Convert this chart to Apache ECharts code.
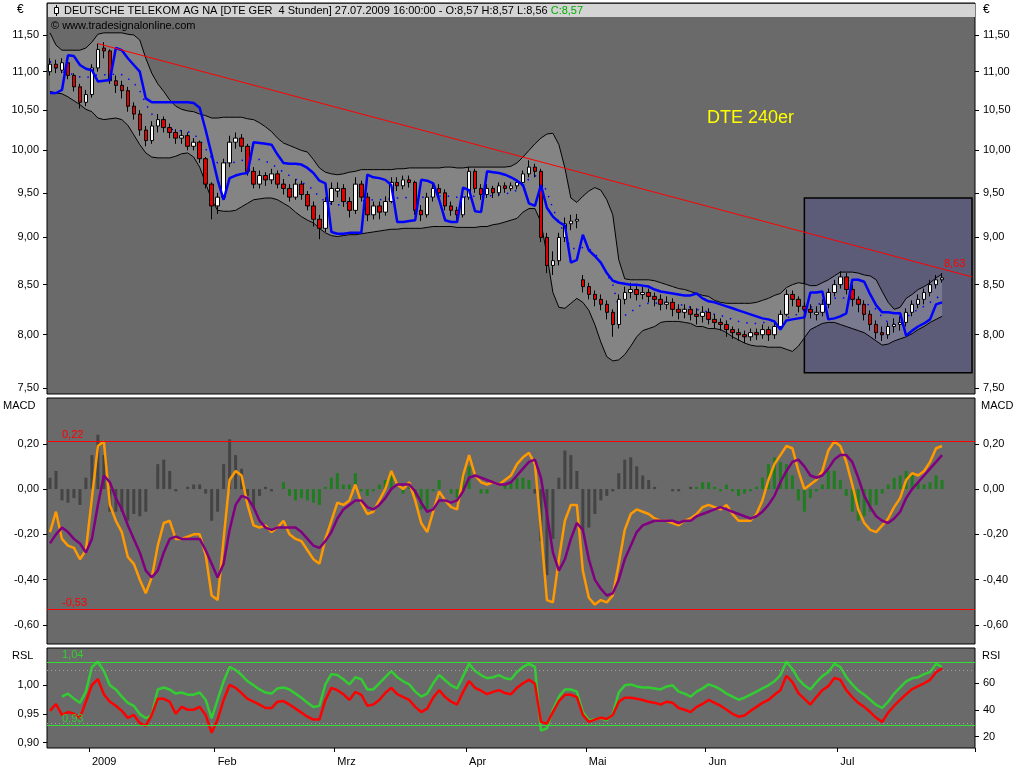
<!DOCTYPE html>
<html><head><meta charset="utf-8">
<script src="https://cdn.jsdelivr.net/npm/echarts@6/dist/echarts.min.js"></script>
<style>html,body{margin:0;padding:0;background:#fff}#c{width:1024px;height:768px}</style>
</head><body><div id="c"></div>
<script>
// ---------- x axis ----------
const totalSlots = 155;
const monthLabels = ['2009','Feb','Mrz','Apr','Mai','Jun','Jul'];
const monthStart  = [7, 28, 48, 70, 90, 110, 132];

// ---------- price panel (EUR) ----------
const priceRange = [7.446, 11.954];
const priceTicks = [7.5, 8, 8.5, 9, 9.5, 10, 10.5, 11, 11.5];
// [open, close, low, high]
const candles = [
[11.00,11.10,10.95,11.18],[11.10,11.05,10.98,11.16],[11.02,11.12,10.98,11.18],[11.12,10.95,10.90,11.15],[10.95,10.80,10.74,10.98],
[10.80,10.60,10.52,10.84],[10.60,10.70,10.55,10.76],[10.70,11.05,10.66,11.10],[11.05,11.30,11.00,11.38],[11.32,11.28,11.18,11.40],
[11.28,10.88,10.84,11.30],[10.88,10.82,10.72,10.95],[10.82,10.75,10.65,10.88],[10.75,10.55,10.48,10.80],[10.55,10.45,10.38,10.60],
[10.45,10.25,10.18,10.50],[10.25,10.12,10.05,10.30],[10.12,10.30,10.08,10.36],[10.30,10.38,10.22,10.45],[10.38,10.28,10.22,10.42],
[10.28,10.22,10.15,10.33],[10.22,10.15,10.08,10.26],[10.15,10.18,10.08,10.25],[10.18,10.05,10.00,10.22],[10.05,10.10,10.00,10.15],
[10.10,9.90,9.85,10.12],[9.90,9.60,9.55,9.92],[9.60,9.35,9.20,9.62],[9.35,9.45,9.26,9.50],[9.45,9.85,9.42,9.90],
[9.85,10.10,9.80,10.18],[10.10,10.15,10.02,10.22],[10.15,10.05,9.98,10.20],[10.05,9.75,9.70,10.08],[9.75,9.60,9.55,9.80],
[9.60,9.70,9.55,9.76],[9.70,9.65,9.58,9.74],[9.65,9.72,9.60,9.78],[9.72,9.60,9.55,9.76],[9.60,9.55,9.48,9.66],
[9.55,9.45,9.40,9.60],[9.45,9.60,9.42,9.66],[9.60,9.48,9.42,9.64],[9.48,9.35,9.30,9.52],[9.35,9.20,9.12,9.40],
[9.20,9.10,8.98,9.25],[9.10,9.40,9.06,9.45],[9.40,9.55,9.36,9.62],[9.52,9.55,9.45,9.62],[9.55,9.40,9.34,9.60],
[9.40,9.30,9.22,9.45],[9.30,9.60,9.26,9.68],[9.60,9.45,9.40,9.64],[9.45,9.25,9.18,9.50],[9.25,9.35,9.20,9.40],
[9.35,9.28,9.20,9.40],[9.28,9.40,9.24,9.46],[9.40,9.62,9.38,9.68],[9.62,9.58,9.52,9.68],[9.58,9.65,9.54,9.70],
[9.65,9.62,9.56,9.70],[9.62,9.30,9.25,9.64],[9.30,9.25,9.18,9.36],[9.25,9.45,9.22,9.50],[9.45,9.55,9.40,9.60],
[9.55,9.50,9.42,9.60],[9.50,9.35,9.30,9.54],[9.35,9.30,9.24,9.40],[9.30,9.25,9.18,9.34],[9.25,9.45,9.22,9.50],
[9.45,9.75,9.42,9.80],[9.75,9.55,9.50,9.78],[9.55,9.48,9.42,9.60],[9.48,9.55,9.44,9.60],[9.55,9.50,9.44,9.58],
[9.50,9.58,9.46,9.62],[9.58,9.55,9.50,9.62],[9.55,9.58,9.52,9.62],[9.58,9.62,9.54,9.66],[9.62,9.72,9.58,9.76],
[9.72,9.80,9.68,9.88],[9.80,9.75,9.68,9.84],[9.75,9.00,8.95,9.78],[9.00,8.70,8.62,9.05],[8.70,8.75,8.60,8.85],
[8.75,9.00,8.70,9.05],[9.00,9.15,8.95,9.22],[9.15,9.18,9.08,9.25],[9.18,9.20,9.10,9.26],[8.55,8.48,8.42,8.60],
[8.48,8.40,8.35,8.52],[8.40,8.35,8.28,8.44],[8.35,8.30,8.24,8.40],[8.30,8.22,8.15,8.34],[8.22,8.10,7.98,8.25],
[8.10,8.35,8.06,8.40],[8.35,8.42,8.30,8.48],[8.42,8.45,8.36,8.52],[8.45,8.40,8.34,8.50],[8.40,8.42,8.35,8.48],
[8.42,8.38,8.32,8.46],[8.38,8.35,8.28,8.42],[8.35,8.30,8.24,8.40],[8.30,8.32,8.25,8.38],[8.32,8.25,8.18,8.36],
[8.25,8.22,8.15,8.30],[8.22,8.25,8.16,8.30],[8.25,8.20,8.14,8.28],[8.20,8.18,8.10,8.26],[8.18,8.22,8.12,8.28],
[8.22,8.15,8.10,8.26],[8.15,8.12,8.06,8.20],[8.12,8.10,8.04,8.16],[8.10,8.05,7.98,8.14],[8.05,8.02,7.96,8.08],
[8.02,8.00,7.94,8.06],[8.00,7.98,7.92,8.04],[7.98,8.02,7.94,8.06],[8.02,8.00,7.95,8.06],[8.00,8.05,7.96,8.10],
[8.05,8.00,7.94,8.08],[8.00,8.08,7.96,8.12],[8.08,8.20,8.05,8.24],[8.20,8.40,8.18,8.45],[8.40,8.35,8.28,8.44],
[8.35,8.28,8.22,8.38],[8.28,8.25,8.18,8.32],[8.25,8.22,8.16,8.30],[8.20,8.22,8.14,8.28],[8.22,8.30,8.18,8.35],
[8.30,8.42,8.26,8.46],[8.42,8.50,8.38,8.55],[8.50,8.58,8.46,8.64],[8.58,8.45,8.40,8.62],[8.45,8.35,8.28,8.50],
[8.35,8.30,8.22,8.38],[8.30,8.20,8.14,8.34],[8.20,8.10,8.04,8.24],[8.10,8.02,7.96,8.14],[8.02,8.00,7.94,8.08],
[8.00,8.08,7.96,8.12],[8.08,8.10,8.02,8.16],[8.10,8.12,8.04,8.18],[8.12,8.22,8.08,8.26],[8.22,8.30,8.18,8.34],
[8.30,8.35,8.26,8.40],[8.35,8.42,8.30,8.46],[8.42,8.50,8.38,8.55],[8.50,8.55,8.46,8.60],[8.55,8.57,8.52,8.62]
];
const bandUpper = [
11.53,11.36,11.29,11.29,11.29,11.29,11.32,11.40,11.51,11.53,
11.53,11.53,11.53,11.51,11.50,11.43,11.18,10.98,10.84,10.74,
10.63,10.55,10.51,10.49,10.48,10.45,10.43,10.40,10.40,10.41,
10.41,10.41,10.41,10.39,10.38,10.34,10.29,10.23,10.15,10.09,
10.06,10.03,10.00,9.98,9.89,9.79,9.74,9.72,9.71,9.72,
9.74,9.75,9.77,9.77,9.77,9.77,9.77,9.77,9.78,9.78,
9.79,9.79,9.79,9.79,9.79,9.79,9.80,9.80,9.79,9.79,
9.80,9.80,9.80,9.80,9.80,9.80,9.80,9.81,9.85,9.92,
10.00,10.08,10.15,10.20,10.21,10.07,9.79,9.44,9.39,9.46,
9.52,9.56,9.53,9.42,9.25,8.76,8.56,8.55,8.55,8.55,
8.55,8.54,8.52,8.50,8.48,8.46,8.45,8.43,8.41,8.39,
8.38,8.34,8.32,8.31,8.31,8.31,8.31,8.31,8.32,8.34,
8.36,8.39,8.41,8.47,8.50,8.52,8.51,8.49,8.49,8.52,
8.55,8.59,8.63,8.63,8.63,8.62,8.60,8.59,8.55,8.43,
8.32,8.25,8.27,8.36,8.40,8.45,8.48,8.52,8.57,8.61
];
const bandMiddle = [
11.14,11.04,11.00,10.98,10.96,10.93,10.92,10.94,10.96,10.96,
10.96,10.97,10.96,10.91,10.85,10.75,10.58,10.45,10.38,10.33,
10.27,10.24,10.24,10.23,10.20,10.13,10.02,9.91,9.85,9.85,
9.85,9.86,9.88,9.89,9.90,9.89,9.87,9.84,9.79,9.74,
9.70,9.66,9.62,9.59,9.53,9.45,9.40,9.37,9.36,9.37,
9.39,9.39,9.41,9.41,9.42,9.42,9.43,9.43,9.44,9.44,
9.45,9.45,9.45,9.45,9.46,9.46,9.46,9.46,9.45,9.45,
9.46,9.46,9.46,9.46,9.47,9.48,9.49,9.50,9.53,9.60,
9.66,9.70,9.66,9.51,9.32,9.17,9.03,8.88,8.88,8.89,
8.88,8.83,8.73,8.61,8.50,8.26,8.19,8.22,8.27,8.30,
8.31,8.31,8.32,8.32,8.31,8.30,8.29,8.27,8.25,8.24,
8.22,8.20,8.19,8.17,8.15,8.13,8.12,8.11,8.11,8.12,
8.12,8.14,8.15,8.17,8.17,8.21,8.24,8.27,8.29,8.32,
8.34,8.36,8.37,8.36,8.35,8.33,8.31,8.29,8.25,8.17,
8.12,8.10,8.12,8.17,8.21,8.25,8.28,8.32,8.36,8.40
];
const bandLower = [
10.74,10.72,10.71,10.67,10.62,10.57,10.51,10.48,10.40,10.38,
10.39,10.40,10.38,10.31,10.19,10.07,9.97,9.92,9.91,9.91,
9.91,9.93,9.96,9.97,9.92,9.80,9.61,9.42,9.30,9.29,
9.29,9.30,9.34,9.38,9.42,9.43,9.44,9.44,9.42,9.38,
9.34,9.28,9.23,9.19,9.16,9.10,9.05,9.02,9.01,9.02,
9.03,9.03,9.04,9.05,9.06,9.07,9.08,9.09,9.09,9.10,
9.10,9.10,9.10,9.11,9.12,9.12,9.12,9.12,9.11,9.11,
9.11,9.11,9.12,9.12,9.14,9.15,9.17,9.19,9.21,9.28,
9.32,9.32,9.17,8.81,8.42,8.27,8.26,8.31,8.36,8.32,
8.24,8.10,7.93,7.79,7.75,7.76,7.81,7.89,7.98,8.04,
8.06,8.08,8.12,8.13,8.13,8.13,8.12,8.11,8.08,8.08,
8.06,8.06,8.05,8.02,7.98,7.95,7.92,7.90,7.89,7.89,
7.88,7.88,7.88,7.86,7.84,7.89,7.97,8.05,8.08,8.11,
8.12,8.12,8.10,8.08,8.06,8.04,8.02,7.98,7.94,7.90,
7.91,7.94,7.96,7.98,8.01,8.05,8.08,8.12,8.15,8.18
];
const blueLine = [
10.72,10.72,10.76,11.22,11.21,11.09,11.04,11.02,10.87,10.88,
10.89,11.32,11.29,11.18,11.09,11.00,10.65,10.60,10.60,10.60,
10.60,10.60,10.60,10.60,10.59,10.53,10.25,9.95,9.65,9.42,
9.67,9.70,9.72,9.73,10.10,10.09,10.08,10.07,9.95,9.85,
9.84,9.84,9.83,9.79,9.73,9.64,9.61,9.06,9.04,9.04,
9.05,9.05,9.05,9.71,9.68,9.67,9.65,9.59,9.17,9.17,
9.18,9.19,9.65,9.64,9.61,9.42,9.19,9.17,9.17,9.56,
9.53,9.29,9.28,9.75,9.74,9.73,9.71,9.68,9.64,9.59,
9.38,9.35,9.59,9.33,9.23,9.17,9.13,8.73,8.76,9.03,
8.86,8.80,8.73,8.62,8.54,8.52,8.51,8.50,8.50,8.49,
8.48,8.45,8.43,8.42,8.41,8.40,8.39,8.39,8.41,8.36,
8.33,8.32,8.30,8.28,8.26,8.24,8.22,8.20,8.18,8.16,
8.15,8.13,8.05,8.14,8.15,8.16,8.17,8.42,8.42,8.43,
8.15,8.16,8.18,8.21,8.55,8.55,8.53,8.40,8.29,8.22,
8.22,8.21,8.21,7.99,8.04,8.08,8.11,8.15,8.30,8.32
];
const trendPoints = [[8, 11.38], [154, 8.58]];
const trendLabel = '8,63';
const highlightBox = { fromIdx: 126, toIdx: 154, top: 9.44, bottom: 7.64 };

// ---------- MACD panel ----------
const macdRange = [-0.684, 0.402];
const macdTicks = [-0.6, -0.4, -0.2, 0, 0.2];
const macdLevels = [0.212, -0.53];
const macdLevelLabels = ['0,22', '-0,53'];
const macdLine = [
-0.19,-0.10,-0.22,-0.25,-0.26,-0.31,-0.27,-0.04,0.19,0.21,
-0.07,-0.14,-0.19,-0.30,-0.33,-0.40,-0.46,-0.39,-0.25,-0.15,
-0.14,-0.22,-0.22,-0.21,-0.20,-0.20,-0.29,-0.47,-0.49,-0.22,
0.04,0.08,0.06,-0.07,-0.16,-0.17,-0.16,-0.19,-0.17,-0.14,
-0.20,-0.22,-0.23,-0.27,-0.31,-0.33,-0.22,-0.14,-0.06,-0.07,
-0.05,0.02,-0.06,-0.11,-0.10,-0.05,0.00,0.08,0.02,0.00,
0.03,-0.05,-0.15,-0.19,-0.10,-0.01,-0.05,-0.08,-0.09,0.06,
0.15,0.06,0.03,0.02,0.03,0.02,0.04,0.06,0.11,0.14,
0.16,0.11,-0.18,-0.49,-0.50,-0.31,-0.14,-0.07,-0.07,-0.36,
-0.48,-0.51,-0.49,-0.50,-0.47,-0.33,-0.18,-0.11,-0.09,-0.10,
-0.11,-0.13,-0.14,-0.14,-0.15,-0.16,-0.14,-0.13,-0.11,-0.08,
-0.07,-0.08,-0.09,-0.07,-0.11,-0.14,-0.14,-0.14,-0.11,-0.05,
0.04,0.11,0.15,0.19,0.18,0.08,0.00,0.02,0.04,0.08,
0.17,0.21,0.19,0.12,0.02,-0.09,-0.15,-0.18,-0.19,-0.16,
-0.13,-0.08,-0.04,0.04,0.07,0.06,0.08,0.12,0.18,0.19
];
const signalLine = [
-0.24,-0.20,-0.17,-0.19,-0.22,-0.24,-0.28,-0.22,-0.07,0.06,
0.03,-0.04,-0.09,-0.16,-0.22,-0.28,-0.36,-0.39,-0.36,-0.28,
-0.22,-0.21,-0.22,-0.22,-0.22,-0.22,-0.27,-0.33,-0.39,-0.33,
-0.18,-0.07,-0.03,-0.04,-0.08,-0.14,-0.17,-0.18,-0.17,-0.17,
-0.17,-0.17,-0.19,-0.22,-0.25,-0.26,-0.23,-0.19,-0.13,-0.09,
-0.07,-0.05,-0.05,-0.08,-0.09,-0.07,-0.04,0.00,0.02,0.02,
0.02,-0.01,-0.06,-0.10,-0.09,-0.05,-0.05,-0.06,-0.05,-0.01,
0.05,0.06,0.05,0.04,0.03,0.02,0.02,0.03,0.06,0.09,
0.12,0.13,0.05,-0.11,-0.28,-0.36,-0.31,-0.22,-0.15,-0.18,
-0.31,-0.40,-0.44,-0.47,-0.46,-0.40,-0.31,-0.25,-0.19,-0.16,
-0.15,-0.14,-0.14,-0.14,-0.14,-0.15,-0.14,-0.14,-0.12,-0.11,
-0.10,-0.09,-0.08,-0.09,-0.10,-0.11,-0.12,-0.13,-0.12,-0.10,
-0.07,-0.03,0.03,0.08,0.12,0.13,0.10,0.06,0.05,0.06,
0.09,0.13,0.15,0.15,0.12,0.05,-0.03,-0.08,-0.12,-0.14,
-0.15,-0.13,-0.10,-0.04,0.00,0.03,0.06,0.09,0.12,0.15
];
const macdHist = [
0.05,0.08,-0.05,-0.06,-0.04,-0.07,0.05,0.15,0.24,0.15,
-0.10,-0.10,-0.10,-0.14,-0.11,-0.12,-0.10,0.00,0.11,0.13,
0.08,-0.01,0.00,0.01,0.02,0.02,-0.02,-0.14,-0.10,0.11,
0.22,0.15,0.09,-0.03,-0.08,-0.03,0.01,-0.01,0.00,0.03,
-0.03,-0.05,-0.04,-0.05,-0.06,-0.07,0.01,0.05,0.07,0.02,
0.02,0.07,-0.01,-0.03,-0.01,0.02,0.04,0.08,0.00,-0.02,
0.01,-0.04,-0.09,-0.09,-0.01,0.04,0.00,-0.02,-0.04,0.07,
0.10,0.00,-0.02,-0.02,0.00,0.00,0.02,0.03,0.05,0.05,
0.04,-0.02,-0.23,-0.38,-0.22,0.05,0.17,0.15,0.08,-0.18,
-0.17,-0.11,-0.05,-0.03,-0.01,0.07,0.13,0.14,0.10,0.06,
0.04,0.01,0.00,0.00,-0.01,-0.01,0.00,0.01,0.01,0.03,
0.03,0.01,-0.01,0.02,-0.01,-0.03,-0.02,-0.01,0.01,0.05,
0.11,0.14,0.12,0.11,0.06,-0.05,-0.10,-0.04,-0.01,0.02,
0.08,0.08,0.04,-0.03,-0.10,-0.14,-0.12,-0.10,-0.07,-0.02,
0.02,0.05,0.06,0.08,0.07,0.03,0.02,0.03,0.06,0.04
];
// 1 = green histogram bar, 0 = grey bar
const histGreen = [
0,0,0,0,0,0,0,0,0,0, 0,0,0,0,0,0,0,0,0,0, 0,0,0,0,0,0,0,0,0,0, 0,0,0,0,0,0,0,0,1,1,
1,1,1,1,1,1,1,1,1,1, 1,1,1,1,1,1,1,1,1,1, 1,1,1,1,1,1,1,1,1,1, 1,1,1,1,1,1,1,1,1,1,
1,0,0,0,0,0,0,0,0,0, 0,0,0,0,0,0,0,0,0,0, 0,0,0,0,0,0,0,0,1,1, 1,1,1,1,1,1,1,1,1,1,
1,1,1,1,1,1,1,1,1,1, 1,1,1,1,1,1,1,1,1,1, 1,1,1,1,1,1,1,1,1,1
];

// ---------- RSL / RSI panel ----------
const rslRange = [0.8906, 1.0642];
const rsiRange = [11.5, 86.5];
const rslTicks = [0.90, 0.95, 1.00];
const rsiTicks = [20, 40, 60];
const rslLevels = [1.04, 0.926];
const rslLevelLabels = ['1,04', '0,93'];
const rsiLevels = [70, 30];
const rslLine = [
0.955,0.967,0.948,0.953,0.950,0.943,0.971,1.000,1.010,0.984,
0.971,0.964,0.955,0.943,0.948,0.934,0.929,0.948,0.976,0.976,
0.971,0.950,0.962,0.957,0.957,0.962,0.948,0.917,0.940,0.974,
1.000,0.995,0.986,0.976,0.971,0.966,0.960,0.960,0.971,0.972,
0.966,0.959,0.952,0.945,0.940,0.940,0.974,0.995,0.991,0.984,
0.974,0.988,0.983,0.964,0.966,0.974,0.986,0.995,0.984,0.979,
0.974,0.962,0.953,0.959,0.978,0.991,0.979,0.971,0.966,0.988,
1.007,0.995,0.990,0.984,0.988,0.991,0.986,0.984,0.995,1.003,
1.009,1.002,0.936,0.933,0.953,0.972,0.983,0.983,0.979,0.948,
0.936,0.940,0.943,0.941,0.948,0.971,0.978,0.978,0.976,0.974,
0.971,0.969,0.966,0.971,0.969,0.960,0.957,0.953,0.962,0.967,
0.974,0.969,0.964,0.957,0.950,0.945,0.947,0.955,0.962,0.969,
0.974,0.983,0.991,1.016,1.005,0.986,0.976,0.966,0.979,0.991,
0.998,1.012,1.009,0.991,0.979,0.969,0.962,0.953,0.943,0.936,
0.952,0.964,0.974,0.984,0.993,0.998,1.003,1.009,1.022,1.029
];
const rsiLine = [
null,null,50.0,52.3,48.5,45.4,53.8,72.3,76.2,69.2,
58.5,55.4,50.0,45.4,43.1,36.9,33.8,36.2,55.4,56.9,
55.4,52.3,53.1,51.5,51.5,53.1,47.7,33.8,47.7,61.5,
72.3,70.0,66.2,61.5,58.5,55.4,53.1,52.3,56.2,56.9,
55.4,52.3,49.2,45.4,42.3,43.1,59.2,66.9,66.2,63.1,
59.2,64.6,63.1,55.4,55.4,60.0,64.6,69.2,64.6,61.5,
59.2,53.8,50.0,52.3,60.0,66.2,62.3,58.5,56.2,65.4,
74.6,69.2,66.2,63.8,64.6,66.2,63.8,63.1,68.5,72.3,
74.6,72.3,24.6,26.2,40.0,50.0,55.4,55.4,53.8,38.5,
32.3,33.1,33.8,32.3,36.9,53.1,58.5,59.2,57.7,56.9,
56.9,56.2,55.4,57.7,58.5,53.8,52.3,50.0,53.8,56.2,
59.2,57.7,55.4,52.3,50.0,47.7,49.2,51.5,53.8,56.2,
58.5,61.5,66.2,76.2,70.8,63.1,58.5,55.4,60.8,65.4,
68.5,74.6,72.3,64.6,59.2,54.6,51.5,47.7,43.8,41.5,
46.2,52.3,56.9,61.5,63.8,64.6,66.9,68.5,74.6,72.3
];

// ---------- texts ----------
const titleText = 'DEUTSCHE TELEKOM AG NA [DTE GER  4 Stunden] 27.07.2009 16:00:00 - O:8,57 H:8,57 L:8,56 ';
const titleClose = 'C:8,57';
const copyrightText = '\u00a9 www.tradesignalonline.com';
const noteText = 'DTE 240er';

// ================= build =================
const FONT = 'Liberation Sans, Arial, sans-serif';
const ln = Math.log;
const comma = (v, d) => v.toFixed(d).replace('.', ',');
const cats = Array.from({length: totalSlots}, (_, i) => String(i));
const isMonth = i => monthStart.indexOf(i) >= 0;

const lnLower = bandLower.map(ln);
const lnWidth = bandUpper.map((u, i) => ln(u) - ln(bandLower[i]));
const trendData = new Array(totalSlots).fill(null);
trendPoints.forEach(p => { trendData[p[0]] = ln(p[1]); });

function yAxis(grid, pos, range, ticks, fmt, lnScale) {
  const vals = lnScale ? ticks.map(ln) : ticks;
  return {
    type: 'value', gridIndex: grid, position: pos,
    min: lnScale ? ln(range[0]) : range[0], max: lnScale ? ln(range[1]) : range[1],
    axisLine: {show: false}, splitLine: {show: false},
    axisTick: {show: true, length: 4, lineStyle: {color: '#000'}, customValues: vals},
    axisLabel: {color: '#000', fontSize: 11, fontFamily: FONT, margin: 8, customValues: vals, formatter: fmt}
  };
}
function xAxis(grid) {
  const last = grid === 2;
  return {
    type: 'category', gridIndex: grid, data: cats, boundaryGap: true,
    axisLine: {show: false}, splitLine: {show: false},
    axisTick: {show: last, length: 4, interval: i => isMonth(i), lineStyle: {color: '#000'}},
    axisLabel: {show: last, interval: i => isMonth(i), align: 'left', margin: 8, color: '#000',
      fontSize: 11, fontFamily: FONT,
      formatter: (v, i) => monthLabels[monthStart.indexOf(i)] || ''}
  };
}
const gridBase = {left: 47, width: 928, show: true, backgroundColor: '#6a6a6a', borderColor: '#000', borderWidth: 1};
const levelLabel = (color, texts) => ({show: true, position: 'insideStartTop', distance: [15, 1], color: color,
  fontSize: 11, fontFamily: FONT, formatter: p => texts[p.dataIndex]});

const option = {
  animation: false,
  backgroundColor: '#ffffff',
  grid: [
    Object.assign({top: 3, height: 391}, gridBase),
    Object.assign({top: 398, height: 246}, gridBase),
    Object.assign({top: 648, height: 100}, gridBase)
  ],
  xAxis: [xAxis(0), xAxis(1), xAxis(2)],
  yAxis: [
    yAxis(0, 'left', priceRange, priceTicks, v => comma(Math.exp(v), 2), true),
    yAxis(0, 'right', priceRange, priceTicks, v => comma(Math.exp(v), 2), true),
    yAxis(1, 'left', macdRange, macdTicks, v => comma(v, 2)),
    yAxis(1, 'right', macdRange, macdTicks, v => comma(v, 2)),
    yAxis(2, 'left', rslRange, rslTicks, v => comma(v, 2)),
    yAxis(2, 'right', rsiRange, rsiTicks, v => String(v))
  ],
  series: [
    { // highlight box
      type: 'line', xAxisIndex: 0, yAxisIndex: 0, data: new Array(totalSlots).fill(null),
      symbol: 'none', silent: true, z: 1,
      markArea: {silent: true, itemStyle: {color: '#5c5c78', borderColor: '#000', borderWidth: 1.5},
        data: [[{xAxis: highlightBox.fromIdx, yAxis: ln(highlightBox.top)},
                {xAxis: highlightBox.toIdx, yAxis: ln(highlightBox.bottom)}]]}
    },
    { type: 'line', xAxisIndex: 0, yAxisIndex: 0, data: lnLower, stack: 'bb', symbol: 'none', silent: true,
      lineStyle: {color: '#000', width: 1}, z: 3 },
    { type: 'line', xAxisIndex: 0, yAxisIndex: 0, data: lnWidth, stack: 'bb', symbol: 'none', silent: true,
      lineStyle: {color: '#000', width: 1}, areaStyle: {color: 'rgba(255,255,255,0.18)', opacity: 1}, z: 3 },
    { type: 'line', xAxisIndex: 0, yAxisIndex: 0, data: bandMiddle.map(ln), symbol: 'none', silent: true,
      lineStyle: {color: '#0000ff', width: 1.5, type: [1.5, 7]}, z: 4 },
    { type: 'candlestick', xAxisIndex: 0, yAxisIndex: 0, data: candles.map(c => c.map(ln)), barWidth: 4,
      itemStyle: {color: '#ffffff', color0: '#e00000', borderColor: '#000', borderColor0: '#000', borderWidth: 1}, z: 5 },
    { type: 'line', xAxisIndex: 0, yAxisIndex: 0, data: blueLine.map(ln), symbol: 'none',
      lineStyle: {color: '#0000ff', width: 2.5}, z: 6 },
    { type: 'line', xAxisIndex: 0, yAxisIndex: 0, data: trendData, connectNulls: true, symbol: 'none',
      lineStyle: {color: '#ff0000', width: 1}, z: 7 },

    { type: 'bar', xAxisIndex: 1, yAxisIndex: 2, barWidth: 3,
      data: macdHist.map((v, i) => ({value: v, itemStyle: {color: histGreen[i] ? '#1e7d1e' : '#444444'}})), z: 2 },
    { type: 'line', xAxisIndex: 1, yAxisIndex: 2, data: macdLine, symbol: 'none',
      lineStyle: {color: '#ff9900', width: 2.5}, z: 4,
      markLine: {silent: true, symbol: ['none', 'none'],
        lineStyle: {color: '#ff0000', width: 1, type: 'solid'},
        label: levelLabel('#ff0000', macdLevelLabels),
        data: macdLevels.map(v => ({yAxis: v}))} },
    { type: 'line', xAxisIndex: 1, yAxisIndex: 2, data: signalLine, symbol: 'none',
      lineStyle: {color: '#800080', width: 2.5}, z: 5 },

    { type: 'line', xAxisIndex: 2, yAxisIndex: 5, data: rsiLine, symbol: 'none',
      lineStyle: {color: '#33cc33', width: 2.5}, z: 4,
      markLine: {silent: true, symbol: ['none', 'none'],
        lineStyle: {color: '#a0a0a0', width: 1, type: [1, 3]}, label: {show: false},
        data: rsiLevels.map(v => ({yAxis: v}))} },
    { type: 'line', xAxisIndex: 2, yAxisIndex: 4, data: rslLine, symbol: 'none',
      lineStyle: {color: '#ff0000', width: 2.5}, z: 5,
      markLine: {silent: true, symbol: ['none', 'none'], z: 10,
        lineStyle: {color: '#33dd33', width: 1, type: 'solid'},
        label: levelLabel('#33cc33', rslLevelLabels),
        data: rslLevels.map(v => ({yAxis: v}))} }
  ],
  graphic: [
    {type: 'rect', shape: {x: 48, y: 4, width: 927, height: 13}, style: {fill: '#d4d4d4'}, z: 100},
    {type: 'line', shape: {x1: 56.5, y1: 5, x2: 56.5, y2: 16}, style: {stroke: '#000', lineWidth: 1}, z: 101},
    {type: 'rect', shape: {x: 54.5, y: 7.5, width: 4, height: 6}, style: {fill: '#fff', stroke: '#000', lineWidth: 1}, z: 102},
    {type: 'text', x: 64, y: 10.5, z: 101, style: {text: '{a|' + titleText + '}{g|' + titleClose + '}',
      textVerticalAlign: 'middle',
      rich: {a: {fill: '#000', font: '11px ' + FONT}, g: {fill: '#00b000', font: '11px ' + FONT}}}},
    {type: 'text', x: 51, y: 26, z: 101, style: {text: copyrightText, fill: '#000', font: '11px ' + FONT, textVerticalAlign: 'middle'}},
    {type: 'text', x: 707, y: 118, z: 101, style: {text: noteText, fill: '#ffff00', font: '18px ' + FONT, textVerticalAlign: 'middle'}},
    {type: 'text', x: 944, y: 264, z: 101, style: {text: trendLabel, fill: '#ff0000', font: '11px ' + FONT, textVerticalAlign: 'middle'}},
    {type: 'text', x: 17, y: 10, style: {text: '\u20ac', fill: '#000', font: '12px ' + FONT, textVerticalAlign: 'middle'}},
    {type: 'text', x: 983, y: 10, style: {text: '\u20ac', fill: '#000', font: '12px ' + FONT, textVerticalAlign: 'middle'}},
    {type: 'text', x: 3, y: 406, style: {text: 'MACD', fill: '#000', font: '11px ' + FONT, textVerticalAlign: 'middle'}},
    {type: 'text', x: 981, y: 406, style: {text: 'MACD', fill: '#000', font: '11px ' + FONT, textVerticalAlign: 'middle'}},
    {type: 'text', x: 12, y: 656, style: {text: 'RSL', fill: '#000', font: '11px ' + FONT, textVerticalAlign: 'middle'}},
    {type: 'text', x: 982, y: 656, style: {text: 'RSI', fill: '#000', font: '11px ' + FONT, textVerticalAlign: 'middle'}}
  ]
};
const chart = echarts.init(document.getElementById('c'), null, {renderer: 'canvas'});
chart.setOption(option);
</script></body></html>
